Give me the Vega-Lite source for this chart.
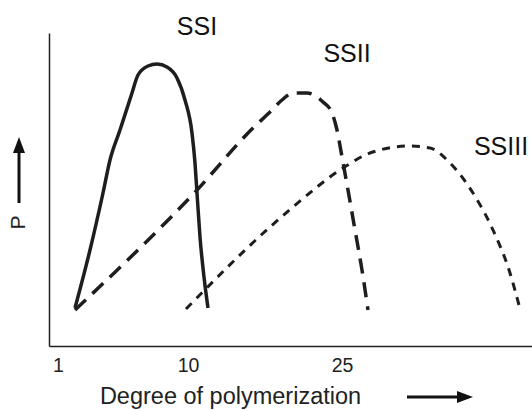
{
  "$schema": "https://vega.github.io/schema/vega-lite/v6.json",
  "autosize": {"type": "none"},
  "width": 483,
  "height": 313,
  "padding": {"left": 49, "top": 33, "right": 0, "bottom": 64},
  "background": "white",
  "config": {
    "view": {"stroke": null},
    "font": "Liberation Sans"
  },
  "datasets": {
    "curves": [
      {"series": "SSI", "u": 26, "v": 38},
      {"series": "SSI", "u": 41, "v": 96},
      {"series": "SSI", "u": 54, "v": 153},
      {"series": "SSI", "u": 61, "v": 186},
      {"series": "SSI", "u": 71, "v": 216},
      {"series": "SSI", "u": 83, "v": 253},
      {"series": "SSI", "u": 89, "v": 271},
      {"series": "SSI", "u": 99, "v": 280},
      {"series": "SSI", "u": 108, "v": 282},
      {"series": "SSI", "u": 118, "v": 279},
      {"series": "SSI", "u": 128, "v": 268},
      {"series": "SSI", "u": 136, "v": 246},
      {"series": "SSI", "u": 143, "v": 213},
      {"series": "SSI", "u": 146, "v": 183},
      {"series": "SSI", "u": 148, "v": 153},
      {"series": "SSI", "u": 151, "v": 109},
      {"series": "SSI", "u": 155, "v": 69},
      {"series": "SSI", "u": 159, "v": 38},
      {"series": "SSII", "u": 26, "v": 36},
      {"series": "SSII", "u": 148, "v": 156},
      {"series": "SSII", "u": 204, "v": 218},
      {"series": "SSII", "u": 221, "v": 234},
      {"series": "SSII", "u": 233, "v": 246},
      {"series": "SSII", "u": 244, "v": 253},
      {"series": "SSII", "u": 258, "v": 253},
      {"series": "SSII", "u": 274, "v": 244},
      {"series": "SSII", "u": 283, "v": 233},
      {"series": "SSII", "u": 288, "v": 216},
      {"series": "SSII", "u": 293, "v": 189},
      {"series": "SSII", "u": 299, "v": 156},
      {"series": "SSII", "u": 306, "v": 116},
      {"series": "SSII", "u": 313, "v": 76},
      {"series": "SSII", "u": 319, "v": 36},
      {"series": "SSIII", "u": 137, "v": 37},
      {"series": "SSIII", "u": 221, "v": 119},
      {"series": "SSIII", "u": 244, "v": 139},
      {"series": "SSIII", "u": 294, "v": 178},
      {"series": "SSIII", "u": 321, "v": 193},
      {"series": "SSIII", "u": 361, "v": 200},
      {"series": "SSIII", "u": 381, "v": 198},
      {"series": "SSIII", "u": 401, "v": 183},
      {"series": "SSIII", "u": 424, "v": 153},
      {"series": "SSIII", "u": 444, "v": 116},
      {"series": "SSIII", "u": 461, "v": 73},
      {"series": "SSIII", "u": 471, "v": 37}
    ],
    "labels": [
      {"label": "SSI", "u": 148, "v": 319},
      {"label": "SSII", "u": 298, "v": 292},
      {"label": "SSIII", "u": 452, "v": 199}
    ],
    "arrowShafts": [
      {"arrow": "P", "u": -30, "v": 143},
      {"arrow": "P", "u": -30, "v": 196},
      {"arrow": "DP", "u": 358, "v": -51},
      {"arrow": "DP", "u": 410, "v": -51}
    ],
    "arrowHeads": [
      {"arrow": "P", "dir": "up", "u": -30, "v": 201},
      {"arrow": "DP", "dir": "right", "u": 416, "v": -51}
    ]
  },
  "layer": [
    {
      "data": {"name": "curves"},
      "transform": [{"filter": "datum.series === 'SSI'"}],
      "mark": {"type": "line", "interpolate": "monotone", "color": "#1e1e1e", "strokeWidth": 3.5, "clip": false},
      "encoding": {
        "x": {
          "field": "u", "type": "quantitative",
          "scale": {"domain": [0, 483], "nice": false, "zero": false},
          "axis": {
            "values": [9, 139, 293],
            "labelExpr": "datum.value == 9 ? '1' : datum.value == 139 ? '10' : '25'",
            "grid": false, "ticks": false, "domainColor": "#222", "domainWidth": 1.5,
            "labelFontSize": 19.5, "labelColor": "#222", "labelPadding": 10,
            "title": "Degree of polymerization",
            "titleFontSize": 23.5, "titleFontWeight": "normal", "titleColor": "#222",
            "titleAlign": "center", "titleBaseline": "middle",
            "titleX": 181, "titleY": 50
          }
        },
        "y": {
          "field": "v", "type": "quantitative",
          "scale": {"domain": [0, 313], "nice": false, "zero": false},
          "axis": {
            "grid": false, "ticks": false, "labels": false,
            "domainColor": "#222", "domainWidth": 1.5,
            "title": "P",
            "titleFontSize": 21, "titleFontWeight": "normal", "titleColor": "#222",
            "titleAngle": -90, "titleAlign": "center", "titleBaseline": "middle",
            "titleX": -31, "titleY": 189
          }
        },
        "order": {"field": "u", "type": "quantitative"}
      }
    },
    {
      "data": {"name": "curves"},
      "transform": [{"filter": "datum.series === 'SSII'"}],
      "mark": {"type": "line", "interpolate": "monotone", "color": "#1e1e1e", "strokeWidth": 3.5, "strokeDash": [15, 9], "clip": false},
      "encoding": {
        "x": {"field": "u", "type": "quantitative"},
        "y": {"field": "v", "type": "quantitative"},
        "order": {"field": "u", "type": "quantitative"}
      }
    },
    {
      "data": {"name": "curves"},
      "transform": [{"filter": "datum.series === 'SSIII'"}],
      "mark": {"type": "line", "interpolate": "monotone", "color": "#1e1e1e", "strokeWidth": 3, "strokeDash": [8, 7], "clip": false},
      "encoding": {
        "x": {"field": "u", "type": "quantitative"},
        "y": {"field": "v", "type": "quantitative"},
        "order": {"field": "u", "type": "quantitative"}
      }
    },
    {
      "data": {"name": "labels"},
      "mark": {"type": "text", "fontSize": 25, "color": "#111", "align": "center", "baseline": "middle"},
      "encoding": {
        "x": {"field": "u", "type": "quantitative"},
        "y": {"field": "v", "type": "quantitative"},
        "text": {"field": "label"}
      }
    },
    {
      "data": {"name": "arrowShafts"},
      "mark": {"type": "line", "color": "#111", "strokeWidth": 3, "clip": false},
      "encoding": {
        "x": {"field": "u", "type": "quantitative"},
        "y": {"field": "v", "type": "quantitative"},
        "detail": {"field": "arrow"}
      }
    },
    {
      "data": {"name": "arrowHeads"},
      "transform": [{"filter": "datum.dir === 'up'"}],
      "mark": {"type": "point", "shape": "M0,-1L0.75,1L-0.75,1Z", "size": 256, "filled": true, "color": "#111", "opacity": 1, "clip": false},
      "encoding": {
        "x": {"field": "u", "type": "quantitative"},
        "y": {"field": "v", "type": "quantitative"}
      }
    },
    {
      "data": {"name": "arrowHeads"},
      "transform": [{"filter": "datum.dir === 'right'"}],
      "mark": {"type": "point", "shape": "M1,0L-1,0.75L-1,-0.75Z", "size": 256, "filled": true, "color": "#111", "opacity": 1, "clip": false},
      "encoding": {
        "x": {"field": "u", "type": "quantitative"},
        "y": {"field": "v", "type": "quantitative"}
      }
    }
  ]
}
